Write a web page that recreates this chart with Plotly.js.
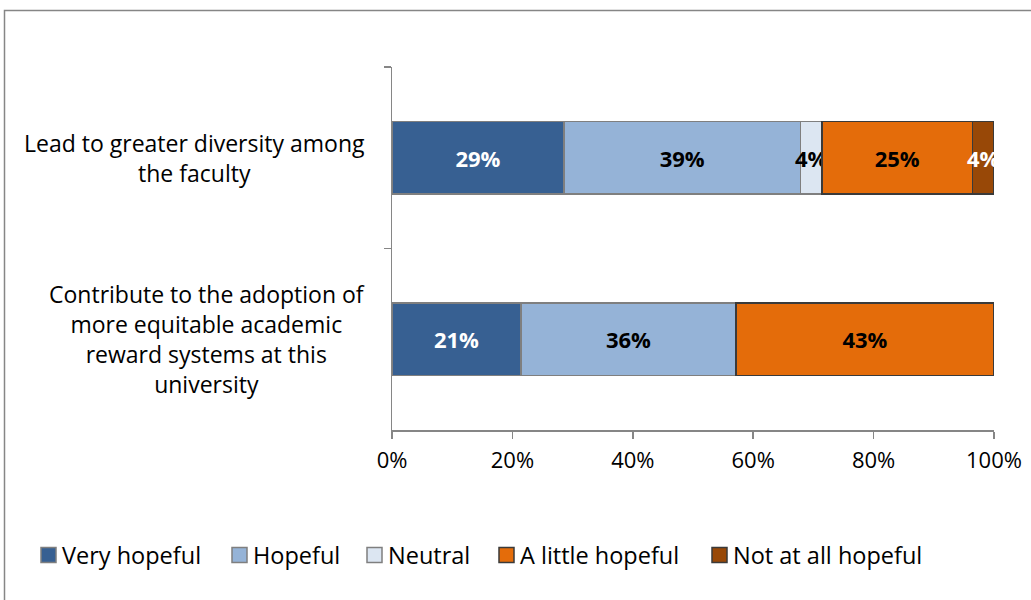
<!DOCTYPE html>
<html>
<head>
<meta charset="utf-8">
<script src="https://cdn.plot.ly/plotly-3.0.1.min.js"></script>
<style>
  html, body { margin: 0; padding: 0; background: #ffffff; }
  #chart { width: 1031px; height: 600px; }
</style>
</head>
<body>
<div id="chart"></div>
<script>
// Survey items (one bar each) and their label text
const items = ['diversity', 'reward'];
const itemLabels = [
  'Lead to greater diversity among<br>the faculty',
  'Contribute to the adoption of<br>more equitable academic<br>reward systems at this<br>university'
];

// Response categories, in stacking order
const responses = ['Very hopeful', 'Hopeful', 'Neutral', 'A little hopeful', 'Not at all hopeful'];

// Share of respondents (%) per response, for each item
const veryHopeful     = [28.57, 21.43];
const hopeful         = [39.29, 35.71];
const neutral         = [3.57, 0];
const aLittleHopeful  = [25.00, 42.86];
const notAtAllHopeful = [3.57, 0];

const seriesValues = [veryHopeful, hopeful, neutral, aLittleHopeful, notAtAllHopeful];
const fillColors   = ['#376092', '#95B3D7', '#DCE6F2', '#E46C0A', '#984807'];
const edgeColors   = ['#7F7F7F', '#7F7F7F', '#7F7F7F', '#3A3A3A', '#3A3A3A'];
const labelColors  = ['#FFFFFF', '#000000', '#000000', '#000000', '#FFFFFF'];

const FONT = 'Open Sans, Noto Sans, sans-serif';

const traces = responses.map((name, i) => ({
  type: 'bar',
  orientation: 'h',
  name: name,
  y: items,
  x: seriesValues[i],
  text: seriesValues[i].map(v => v > 0 ? Math.round(v) + '%' : ''),
  textposition: 'inside',
  insidetextanchor: 'middle',
  textangle: 0,
  constraintext: 'none',
  cliponaxis: false,
  textfont: { family: FONT, size: 22, color: labelColors[i], weight: 'bold' },
  marker: { color: fillColors[i], line: { color: edgeColors[i], width: 1.5 } },
  showlegend: false,
  hoverinfo: 'skip'
}));

// plot area geometry in pixels, used to place paper-referenced items
const L = 392, R = 994, T = 67, B = 430;
const px = x => (x - L) / (R - L);
const py = y => (B - y) / (B - T);

// item labels beside each bar, centred line by line
const annotations = items.map((it, i) => ({
  xref: 'paper', yref: 'y',
  x: px(367), y: it,
  xanchor: 'right', yanchor: 'middle',
  align: 'center',
  showarrow: false,
  text: itemLabels[i],
  font: { family: FONT, size: 23, color: '#000000' }
}));

// key row below the axis: a swatch and a name per response
const keyLeft = [41, 232, 367, 499, 712];
const keySize = 15, keyMid = 555;
const shapes = [{
  type: 'rect', xref: 'paper', yref: 'paper',
  x0: px(4.5), x1: px(1040), y0: py(610), y1: py(10.5),
  line: { color: '#868686', width: 1.5 },
  fillcolor: 'rgba(0,0,0,0)',
  layer: 'below'
}];
responses.forEach((name, i) => {
  shapes.push({
    type: 'rect', xref: 'paper', yref: 'paper',
    x0: px(keyLeft[i]), x1: px(keyLeft[i] + keySize),
    y0: py(keyMid + keySize / 2), y1: py(keyMid - keySize / 2),
    fillcolor: fillColors[i],
    line: { color: edgeColors[i], width: 1.5 }
  });
  annotations.push({
    xref: 'paper', yref: 'paper',
    x: px(keyLeft[i] + keySize + 4), y: py(keyMid),
    xanchor: 'left', yanchor: 'middle',
    showarrow: false,
    text: name,
    font: { family: FONT, size: 23.5, color: '#000000' }
  });
});

const layout = {
  width: 1031,
  height: 600,
  margin: { l: L, r: 1031 - R, t: T, b: 600 - B, pad: 0 },
  paper_bgcolor: '#ffffff',
  plot_bgcolor: '#ffffff',
  barmode: 'stack',
  bargap: 0.6,
  showlegend: false,
  font: { family: FONT, size: 20, color: '#000000' },
  xaxis: {
    range: [0, 100],
    tickmode: 'linear', tick0: 0, dtick: 20,
    ticksuffix: '%',
    showgrid: false, zeroline: false,
    showline: true, linecolor: '#868686', linewidth: 1.5,
    ticks: 'outside', ticklen: 7, tickcolor: '#868686', tickwidth: 1.5,
    ticklabelstandoff: 3,
    tickfont: { family: FONT, size: 22, color: '#000000' },
    fixedrange: true
  },
  yaxis: {
    type: 'category',
    categoryorder: 'array', categoryarray: items,
    autorange: 'reversed',
    showticklabels: false,
    showgrid: false, zeroline: false,
    showline: true, linecolor: '#868686', linewidth: 1.5,
    ticks: 'outside', tickson: 'boundaries', ticklen: 7, tickcolor: '#868686', tickwidth: 1.5,
    fixedrange: true
  },
  annotations: annotations,
  shapes: shapes
};

Plotly.newPlot('chart', traces, layout, { displayModeBar: false, staticPlot: true });
</script>
</body>
</html>
